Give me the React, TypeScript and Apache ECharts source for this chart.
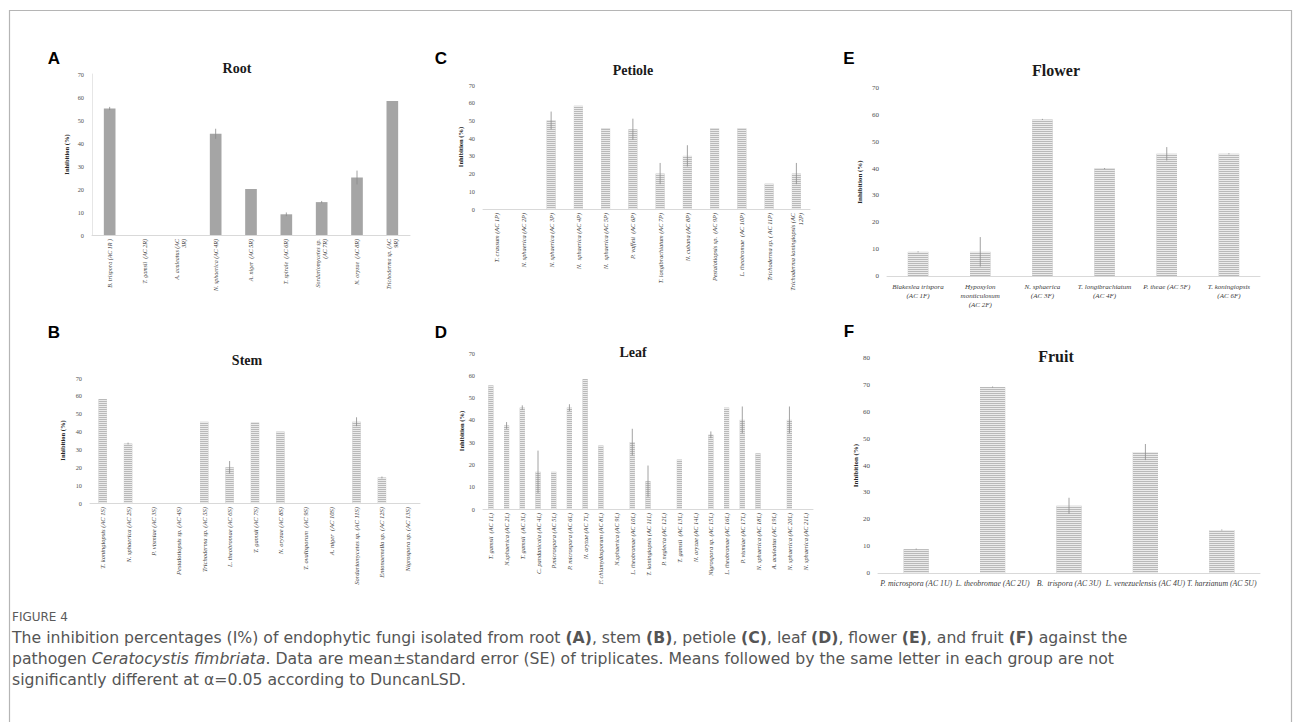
import React, { useEffect, useRef } from "react";
import * as echarts from "echarts";

// ---------- DATA ----------
const rootCategories = [
  "B. trispora (AC 1R )",
  "T. gamsii  (AC 2R)",
  "A. aculeatus (AC\n3R)",
  "N. sphaerica (AC 4R)",
  "A. niger  (AC 5R)",
  "T. spirale  (AC 6R)",
  "Sordariomycetes sp.\n(AC 7R)",
  "N. oryzae  (AC 8R)",
  "Trichoderma sp. (AC\n9R)",
];
const rootValues = [55, 0, 0, 44, 20, 9, 14.3, 25, 58.3];
const rootErrors = [0.7, 0, 0, 2.2, 0, 0.8, 0.5, 3, 0];

const stemCategories = [
  "T. koningiopsis (AC 1S)",
  "N. sphaerica (AC 2S)",
  "P. vismiae (AC 3S)",
  "Pestalotiopsis sp. (AC 4S)",
  "Trichoderma sp. (AC 5S)",
  "L. theobromae (AC 6S)",
  "T. gamsii (AC 7S)",
  "N. oryzae (AC 8S)",
  "T. ovalisporum  (AC 9S)",
  "A. niger  (AC 10S)",
  "Sordariomycetes sp. (AC 11S)",
  "Entonaemella sp. (AC 12S)",
  "Nigrospora sp. (AC 13S)",
];
const stemValues = [58.3, 33.3, 0, 0, 45.5, 20, 45, 40, 0, 0, 45.5, 14.3, 0];
const stemErrors = [0, 0.5, 0, 0, 0, 3.5, 0, 0, 0, 0, 2.5, 0.5, 0];

const petioleCategories = [
  "T. crassum (AC 1P)",
  "N. sphaerica (AC 2P)",
  "N. sphaerica (AC 3P)",
  "N.  sphaerica (AC 4P)",
  "N.  sphaerica (AC 5P)",
  "P. vaffeii  (AC 6P)",
  "T. longibrachiatum (AC 7P)",
  "N. cubana (AC 8P)",
  "Pestalotiopsis sp.  (AC 9P)",
  "L. theobromae  (AC 10P)",
  "Trichoderma sp. ( AC 11P)",
  "Trichoderma koningiopsis (AC\n12P)",
];
const petioleValues = [0, 0, 50, 58.3, 45.5, 45, 20, 30, 45.5, 45.5, 14.3, 20];
const petioleErrors = [0, 0, 5, 0, 0, 6, 6, 6, 0, 0, 0, 6];

const leafCategories = [
  "T. gamsii  (AC 1L)",
  "N.sphaerica (AC 2L)",
  "T. gamsii  (AC 3L)",
  "C. pandanicola (AC 4L)",
  "P.microspora (AC 5L)",
  "P. microspora (AC 6L)",
  "N. oryzae (AC 7L)",
  "F. chlamydosporum (AC 8L)",
  "N.sphaerica (AC 9L)",
  "L. theobromae (AC 10L)",
  "T. koningiopsis (AC 11L)",
  "P. neglecta (AC 12L)",
  "T. gamsii  (AC 13L)",
  "N. oryzae (AC 14L)",
  "Nigrospora sp. (AC 15L)",
  "L. theobromae (AC 16L)",
  "P. vismiae (AC 17L)",
  "N. sphaerica (AC 18L)",
  "A. aculeatus (AC 19L)",
  "N. sphaerica (AC 20L)",
  "N. sphaerica (AC 21L)",
];
const leafValues = [55.5, 37.5, 45.5, 16.7, 16.7, 45.5, 58.3, 28.5, 0, 30, 12.5, 0, 22.2, 0, 33.3, 45.5, 40, 25, 0, 40, 0];
const leafErrors = [0, 1.5, 1, 9.5, 0, 1.5, 0, 0, 0, 6, 7, 0, 0, 0, 1.5, 0, 6, 0, 0, 6, 0];

const flowerCategories = [
  "Blakeslea trispora\n(AC 1F)",
  "Hypoxylon\nmonticulosum\n(AC 2F)",
  "N. sphaerica\n(AC 3F)",
  "T. longibrachiatum\n(AC 4F)",
  "P. theae (AC 5F)",
  "T. koningiopsis\n(AC 6F)",
];
const flowerValues = [9, 9, 58.3, 40, 45.5, 45.5];
const flowerErrors = [0.2, 5.5, 0.2, 0.2, 2.5, 0.2];

const fruitCategories = [
  "P. microspora (AC 1U)",
  "L. theobromae (AC 2U)",
  "B.  trispora (AC 3U)",
  "L. venezuelensis (AC 4U)",
  "T. harzianum (AC 5U)",
];
const fruitValues = [8.9, 69.2, 25, 45, 16];
const fruitErrors = [0.2, 0.2, 3, 3, 0.2];

const yMaxes = [70, 70, 70, 70, 70, 80];
const panelTitles = ["Root", "Stem", "Petiole", "Leaf", "Flower", "Fruit"];
const panelLetters = ["A", "B", "C", "D", "E", "F"];
const yAxisName = "Inhibition (%)";

// ---------- LAYOUT ----------
type Panel = {
  cats: string[];
  vals: number[];
  errs: number[];
  grid: { left: number; top: number; width: number; height: number };
  striped: boolean;
  labelSize: number;
  rotate: number;
  tickSize: number;
  nameGap: number;
  nameSize: number;
  titleX: number;
  titleY: number;
  titleSize: number;
  letterX: number;
  letterY: number;
  yLine: boolean;
};

const panels: Panel[] = [
  { cats: rootCategories, vals: rootValues, errs: rootErrors, grid: { left: 92, top: 74, width: 318, height: 161 }, striped: false, labelSize: 6, rotate: 90, tickSize: 6.3, nameGap: 22, nameSize: 6.5, titleX: 237, titleY: 68, titleSize: 14, letterX: 54, letterY: 58, yLine: true },
  { cats: stemCategories, vals: stemValues, errs: stemErrors, grid: { left: 90, top: 378, width: 330, height: 125 }, striped: true, labelSize: 6.5, rotate: 90, tickSize: 6.3, nameGap: 24, nameSize: 6.5, titleX: 247, titleY: 360, titleSize: 14, letterX: 54, letterY: 332, yLine: false },
  { cats: petioleCategories, vals: petioleValues, errs: petioleErrors, grid: { left: 483, top: 85, width: 327, height: 124 }, striped: true, labelSize: 6.3, rotate: 90, tickSize: 6.3, nameGap: 19, nameSize: 6.5, titleX: 633, titleY: 70, titleSize: 14, letterX: 441, letterY: 58, yLine: false },
  { cats: leafCategories, vals: leafValues, errs: leafErrors, grid: { left: 483, top: 353, width: 330, height: 156 }, striped: true, labelSize: 6.3, rotate: 90, tickSize: 6.3, nameGap: 17, nameSize: 6.5, titleX: 633, titleY: 352, titleSize: 14, letterX: 441, letterY: 332, yLine: false },
  { cats: flowerCategories, vals: flowerValues, errs: flowerErrors, grid: { left: 887, top: 88, width: 373, height: 188 }, striped: true, labelSize: 7, rotate: 0, tickSize: 7, nameGap: 24, nameSize: 7, titleX: 1056, titleY: 70, titleSize: 16, letterX: 849, letterY: 58, yLine: false },
  { cats: fruitCategories, vals: fruitValues, errs: fruitErrors, grid: { left: 878, top: 358, width: 382, height: 215 }, striped: true, labelSize: 7.8, rotate: 0, tickSize: 7, nameGap: 17, nameSize: 7, titleX: 1056, titleY: 356, titleSize: 16, letterX: 849, letterY: 331, yLine: false },
];

const SERIF = "'Liberation Serif', 'Times New Roman', serif";
const SANS = "'Liberation Sans', Arial, sans-serif";
const CAP = "'DejaVu Sans', 'Open Sans', sans-serif";
const CAP_SIZE = 15.7;
const CAP_COLOR = "#555555";

function buildOption() {
  const grid: any[] = [];
  const xAxis: any[] = [];
  const yAxis: any[] = [];
  const series: any[] = [];
  const graphic: any[] = [];

  panels.forEach((p, i) => {
    grid.push({ ...p.grid, containLabel: false });
    xAxis.push({
      type: "category",
      gridIndex: i,
      data: p.cats,
      axisLine: { show: true, lineStyle: { color: "#d9d9d9", width: 1 } },
      axisTick: { show: false },
      axisLabel: {
        interval: 0,
        rotate: p.rotate,
        fontSize: p.labelSize,
        fontStyle: "italic",
        fontFamily: SERIF,
        color: "#404040",
        margin: p.rotate ? 4 : 6,
        lineHeight: p.rotate ? p.labelSize + 1.5 : p.labelSize + 2,
      },
    });
    yAxis.push({
      type: "value",
      gridIndex: i,
      min: 0,
      max: yMaxes[i],
      interval: 10,
      name: yAxisName,
      nameLocation: "middle",
      nameGap: p.nameGap,
      nameTextStyle: { fontSize: p.nameSize, fontWeight: "bold", fontFamily: SERIF, color: "#262626" },
      axisLine: { show: p.yLine, lineStyle: { color: "#e6e6e6" } },
      axisTick: { show: false },
      splitLine: { show: false },
      axisLabel: { fontSize: p.tickSize, fontFamily: SERIF, color: "#505050", margin: 8 },
    });
    series.push({
      type: "bar",
      xAxisIndex: i,
      yAxisIndex: i,
      data: p.vals,
      barWidth: "33%",
      itemStyle: p.striped
        ? {
            color: "#b9b9b9",
            decal: {
              symbol: "rect",
              symbolSize: 1,
              dashArrayX: [1, 0],
              dashArrayY: [1, 1],
              rotation: 0,
              color: "#ebebeb",
            },
          }
        : { color: "#a5a5a5" },
    });
    series.push({
      type: "custom",
      xAxisIndex: i,
      yAxisIndex: i,
      z: 5,
      data: p.vals.map((v, k) => [k, v, p.errs[k]]),
      encode: { x: 0, y: 1 },
      renderItem: (params: any, api: any) => {
        const x = api.value(0);
        const v = api.value(1);
        const e = api.value(2);
        if (!e) return null;
        const a = api.coord([x, v + e]);
        const b = api.coord([x, Math.max(0, v - e)]);
        return {
          type: "line",
          shape: { x1: a[0], y1: a[1], x2: b[0], y2: b[1] },
          style: { stroke: "#8a8a8a", lineWidth: 0.8 },
        };
      },
    });
    graphic.push({
      type: "text",
      x: p.titleX,
      y: p.titleY,
      style: {
        text: panelTitles[i],
        fontSize: p.titleSize,
        fontWeight: "bold",
        fontFamily: SERIF,
        fill: "#1a1a1a",
        align: "center",
        verticalAlign: "middle",
      },
    });
    graphic.push({
      type: "text",
      x: p.letterX,
      y: p.letterY,
      style: {
        text: panelLetters[i],
        fontSize: 17,
        fontWeight: "bold",
        fontFamily: SANS,
        fill: "#000",
        align: "center",
        verticalAlign: "middle",
      },
    });
  });

  // border
  graphic.push({
    type: "rect",
    shape: { x: 9.5, y: 10.5, width: 1282, height: 740 },
    style: { fill: "none", stroke: "#b5b5b5", lineWidth: 1.2 },
    silent: true,
  });

  const capRich = {
    b: { fontWeight: "bold", fontSize: CAP_SIZE, fontFamily: CAP, fill: CAP_COLOR },
    i: { fontStyle: "italic", fontSize: CAP_SIZE, fontFamily: CAP, fill: CAP_COLOR },
  };
  graphic.push({
    type: "text",
    x: 12,
    y: 617,
    style: { text: "FIGURE 4", fontSize: 12, fontFamily: CAP, fill: "#5a5a5a", verticalAlign: "middle" },
  });
  const capLines = [
    "The inhibition percentages (I%) of endophytic fungi isolated from root {b|(A)}, stem {b|(B)}, petiole {b|(C)}, leaf {b|(D)}, flower {b|(E)}, and fruit {b|(F)} against the",
    "pathogen {i|Ceratocystis fimbriata}. Data are mean±standard error (SE) of triplicates. Means followed by the same letter in each group are not",
    "significantly different at α=0.05 according to DuncanLSD.",
  ];
  const capY = [637, 658, 679];
  capLines.forEach((t, k) => {
    graphic.push({
      type: "text",
      x: 12,
      y: capY[k],
      style: { text: t, rich: capRich, fontSize: CAP_SIZE, fontFamily: CAP, fill: CAP_COLOR, verticalAlign: "middle" },
    });
  });

  return {
    animation: false,
    backgroundColor: "#ffffff",
    grid,
    xAxis,
    yAxis,
    series,
    graphic,
  };
}

export default function App() {
  const ref = useRef<HTMLDivElement>(null);
  useEffect(() => {
    if (!ref.current) return;
    const chart = echarts.init(ref.current, undefined, { renderer: "svg" });
    chart.setOption(buildOption() as any);
    return () => chart.dispose();
  }, []);
  return (
    <div
      ref={ref}
      style={{ position: "absolute", left: 0, top: 0, width: 1295, height: 722, background: "#fff" }}
    />
  );
}
